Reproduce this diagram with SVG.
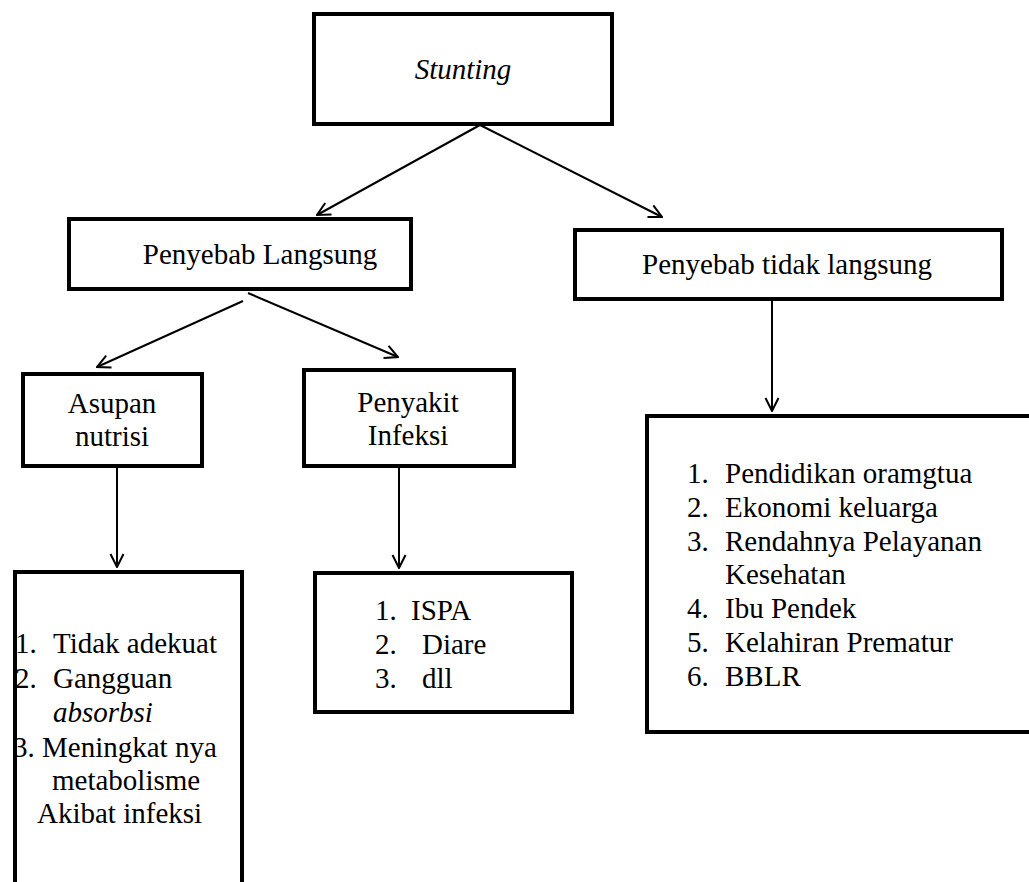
<svg xmlns="http://www.w3.org/2000/svg" width="1029" height="882" viewBox="0 0 1029 882" font-family="Liberation Serif, Times New Roman, serif" font-size="29">
<style>
.box{fill:#fff;stroke:#000;stroke-width:4}
.c{text-anchor:middle}
.i{font-style:italic}
.con{stroke:#000;stroke-width:2;fill:none;marker-end:url(#arr)}
</style>
<defs>
<marker id="arr" viewBox="0 0 16 16" refX="15" refY="8" markerWidth="16" markerHeight="16" markerUnits="userSpaceOnUse" orient="auto">
<path d="M2,1.5 L15,8 L2,14.5" fill="none" stroke="#000" stroke-width="2"/>
</marker>
</defs>
<rect width="1029" height="882" fill="#fff"/>
<g id="connectors">
<line class="con" x1="480" y1="125" x2="317" y2="215"/>
<line class="con" x1="480" y1="125" x2="662" y2="217"/>
<line class="con" x1="243" y1="301" x2="97" y2="367"/>
<line class="con" x1="248" y1="293" x2="398" y2="357"/>
<line class="con" x1="117" y1="467" x2="117" y2="567"/>
<line class="con" x1="399" y1="467" x2="399" y2="568"/>
<line class="con" x1="772" y1="300" x2="772" y2="411"/>
</g>
<g id="stunting">
<rect class="box" x="314" y="14" width="298" height="110"/>
<text class="c i" x="463" y="79">Stunting</text>
</g>
<g id="penyebab-langsung">
<rect class="box" x="69" y="219" width="342" height="70"/>
<text class="c" x="260" y="264">Penyebab Langsung</text>
</g>
<g id="penyebab-tidak-langsung">
<rect class="box" x="575" y="230" width="427" height="69"/>
<text class="c" x="787" y="274">Penyebab tidak langsung</text>
</g>
<g id="asupan-nutrisi">
<rect class="box" x="23" y="374" width="179" height="92"/>
<text class="c" x="112" y="413">Asupan</text>
<text class="c" x="112" y="446">nutrisi</text>
</g>
<g id="penyakit-infeksi">
<rect class="box" x="304" y="370" width="210" height="96"/>
<text class="c" x="408" y="412">Penyakit</text>
<text class="c" x="408" y="445">Infeksi</text>
</g>
<g id="list-asupan">
<rect class="box" x="15" y="572" width="227" height="320"/>
<text x="15" y="653">1.</text>
<text x="53" y="653">Tidak adekuat</text>
<text x="15" y="688">2.</text>
<text x="53" y="688">Gangguan</text>
<text class="i" x="53" y="722">absorbsi</text>
<text x="13" y="757">3. Meningkat nya</text>
<text x="52" y="790">metabolisme</text>
<text x="37" y="823">Akibat infeksi</text>
</g>
<g id="list-infeksi">
<rect class="box" x="315" y="573" width="257" height="139"/>
<text x="375" y="620">1.</text>
<text x="411" y="620">ISPA</text>
<text x="375" y="654">2.</text>
<text x="422" y="654">Diare</text>
<text x="375" y="688">3.</text>
<text x="422" y="688">dll</text>
</g>
<g id="list-tidak-langsung">
<rect class="box" x="647" y="416" width="400" height="316"/>
<text x="687" y="483">1.</text>
<text x="725" y="483">Pendidikan oramgtua</text>
<text x="687" y="517">2.</text>
<text x="725" y="517">Ekonomi keluarga</text>
<text x="687" y="551">3.</text>
<text x="725" y="551">Rendahnya Pelayanan</text>
<text x="725" y="584">Kesehatan</text>
<text x="687" y="618">4.</text>
<text x="725" y="618">Ibu Pendek</text>
<text x="687" y="652">5.</text>
<text x="725" y="652">Kelahiran Prematur</text>
<text x="687" y="686">6.</text>
<text x="725" y="686">BBLR</text>
</g>
</svg>
